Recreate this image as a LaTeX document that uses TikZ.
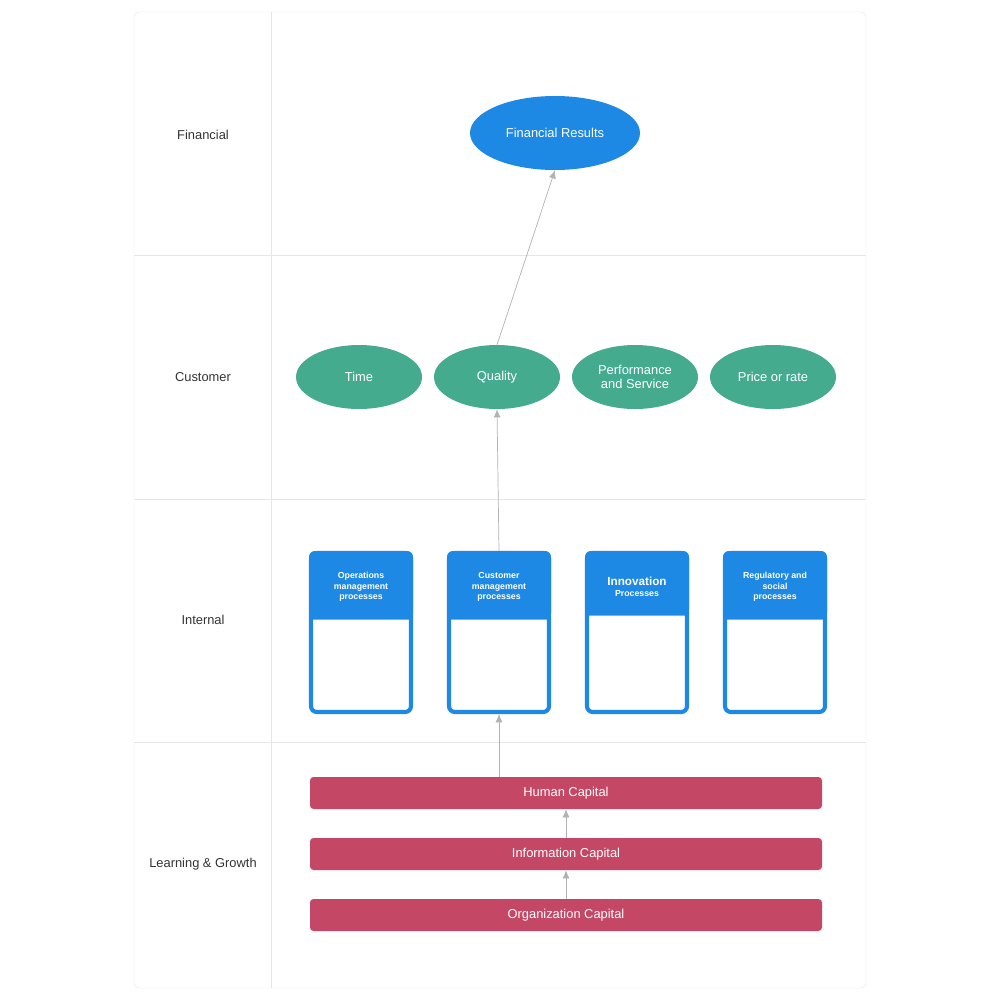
\documentclass[tikz,border=0pt]{standalone}
\usepackage{fontspec}
\setmainfont{Liberation Sans}
\usetikzlibrary{shapes.geometric}
\definecolor{lineg}{HTML}{E6E6E6}
\definecolor{fblue}{HTML}{1E88E5}
\definecolor{cgreen}{HTML}{45AB8E}
\definecolor{lred}{HTML}{C44865}
\tikzset{
  lane/.style={font=\fontsize{11}{13}\selectfont, text=black!80},
  goal/.style={ellipse, fill=cgreen, text=white, minimum width=126*0.03cm, minimum height=64*0.03cm, inner sep=0pt, align=center, font=\fontsize{11}{12}\selectfont},
  capital/.style={rectangle, rounded corners=3pt, fill=lred, text=white, minimum width=512*0.03cm, minimum height=32*0.03cm, font=\fontsize{11}{13}\selectfont},
  proc/.style={rectangle, rounded corners=5pt, draw=fblue, line width=3.5pt, minimum width=100*0.03cm, minimum height=159*0.03cm},
  link/.style={draw=black!30, line width=0.6pt, -{Latex[length=7pt,width=6pt]}}
}
\usetikzlibrary{arrows.meta}
\begin{document}
\begin{tikzpicture}[x=0.03cm, y=-0.03cm]
    \useasboundingbox (0,0) rectangle (1000,1000);
    % the lanes
    \draw[lineg, rounded corners=4pt] (134,12) rectangle (866,988);
    \draw[lineg] (271,12) -- (271,988);
    \foreach \y in {255,499,742}
        \draw[lineg] (134,\y) -- (866,\y);

    % the lane names
    \node[lane] (lfin) at (203,135) {Financial};
    \node[lane] (lcus) at (203,377) {Customer};
    \node[lane] (lint) at (203,620) {Internal};
    \node[lane] (llg) at (203,864) {Learning \& Growth};

    % financial and customer goals
    \node[ellipse, fill=fblue, text=white, minimum width=170*0.03cm, minimum height=74*0.03cm, font=\fontsize{11}{13}\selectfont] (fin) at (555,133) {Financial Results};
    \node[goal] (time) at (359,377) {Time};
    \node[goal] (qual) at (497,377) {Quality};
    \node[goal] (perf) at (635,377) {Performance\\and Service};
    \node[goal] (price) at (773,377) {Price or rate};

    % the internal processes
    \foreach \x/\n/\t/\h in {361/ops/Operations\\management\\processes/619,
                             499/cus/Customer\\management\\processes/619,
                             637/inn/{\fontsize{10}{12}\selectfont Innovation\\Processes}/615,
                             775/reg/Regulatory and\\social\\processes/619} {
        \fill[fblue, rounded corners=5pt] (\x-52,551) -- (\x+52,551) -- (\x+52,\h) -- (\x-52,\h) -- cycle;
        \fill[fblue] (\x-52,600) rectangle (\x+52,\h);
        \draw[black!35, line width=0.8pt] (\x-49,\h) -- (\x+49,\h);
        \node[proc] (\n) at (\x,632.5) {};
        \node[text=white, align=center, font=\bfseries\fontsize{7.5}{9}\selectfont] (\n t) at (\x,587) {\t};
    }

    % the capitals
    \node[capital] (hum) at (566,793) {Human Capital};
    \node[capital] (inf) at (566,854) {Information Capital};
    \node[capital] (org) at (566,915) {Organization Capital};

    % draw the arrows
    \draw[link] (org) -- (inf);
    \draw[link] (inf) -- (hum);
    \draw[link] (hum.north -| cus) -- (cus.south);
    \draw[link] (cus.north) -- (qual.south);
    \draw[link] (qual.north) -- (fin.south);
\end{tikzpicture}
\end{document}
